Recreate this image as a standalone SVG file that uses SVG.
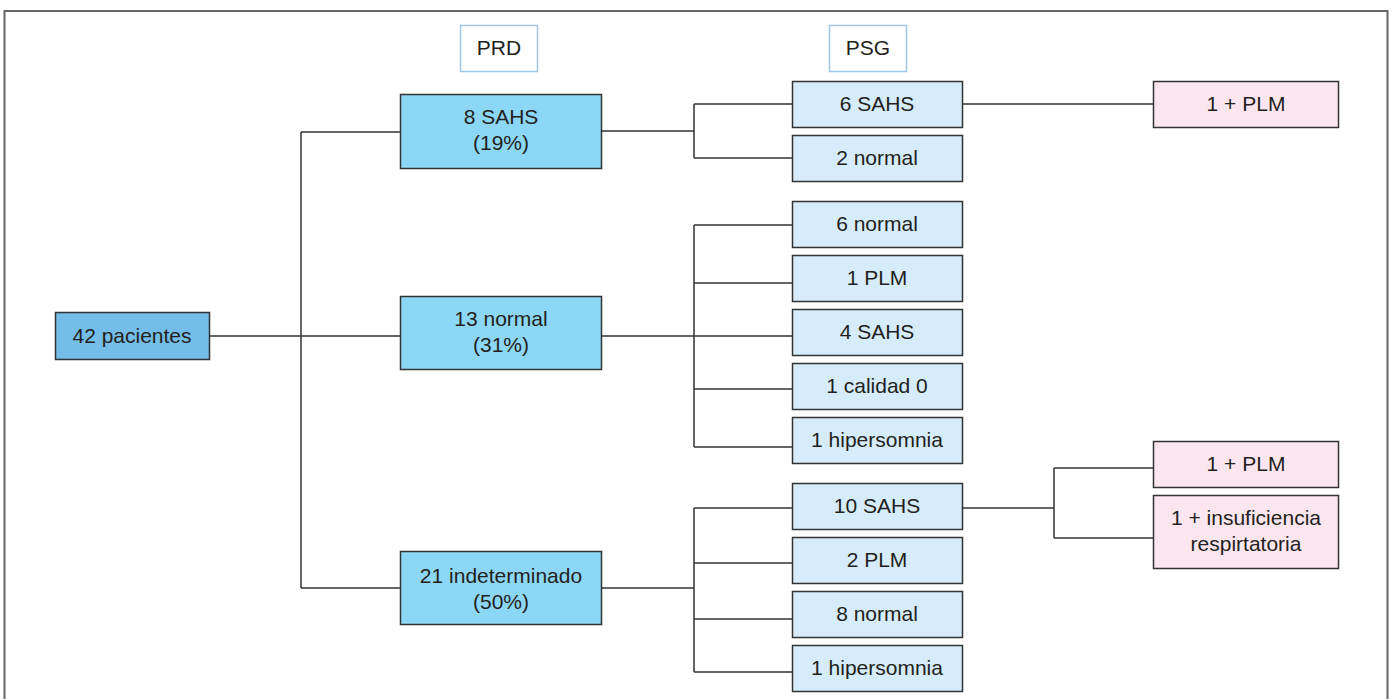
<svg xmlns="http://www.w3.org/2000/svg" width="1392" height="699" viewBox="0 0 1392 699">
<style>
text{font-family:"Liberation Sans",Arial,sans-serif;font-size:21px;fill:#231f20;text-anchor:middle}
.b{stroke:#333;stroke-width:1.5}
.root{fill:#74bde8}
.l2{fill:#8dd7f6}
.l3{fill:#d6ecfa}
.pk{fill:#fbe6ef}
.hd{fill:#fff;stroke:#9fc7ea;stroke-width:1.5}
.c{fill:none;stroke:#333;stroke-width:1.5}
</style>
<rect x="4.5" y="11" width="1383" height="710" fill="#fff" stroke="#666" stroke-width="2"/>
<g id="connectors">
<path class="c" d="M209 336H400M301 132V588M301 132H400M301 588H400"/>
<path class="c" d="M601 131H694M694 104V158M694 104H792M694 158H792"/>
<path class="c" d="M601 336H694M694 225V447M694 225H792M694 283H792M694 336H792M694 389H792M694 447H792"/>
<path class="c" d="M601 588H694M694 508V672M694 508H792M694 563H792M694 619H792M694 672H792"/>
<path class="c" d="M962 104H1153"/>
<path class="c" d="M962 508H1054M1054 468V538M1054 468H1153M1054 538H1153"/>
</g>
<g id="hdr-prd"><rect class="hd" x="460.5" y="25.5" width="77" height="46"/><text x="499" y="55">PRD</text></g>
<g id="hdr-psg"><rect class="hd" x="829.5" y="25.5" width="77" height="46"/><text x="868" y="55">PSG</text></g>
<g id="n-root"><rect class="b root" x="55.5" y="312.5" width="154" height="47"/><text x="132" y="343">42 pacientes</text></g>
<g id="n-sahs"><rect class="b l2" x="400.5" y="94.5" width="201" height="74"/><text x="501" y="124">8 SAHS</text><text x="501" y="150">(19%)</text></g>
<g id="n-normal"><rect class="b l2" x="400.5" y="296.5" width="201" height="73"/><text x="501" y="326">13 normal</text><text x="501" y="352">(31%)</text></g>
<g id="n-indet"><rect class="b l2" x="400.5" y="551.5" width="201" height="73"/><text x="501" y="583">21 indeterminado</text><text x="501" y="609">(50%)</text></g>
<g id="p1"><rect class="b l3" x="792.5" y="81.5" width="170" height="46"/><text x="877" y="111">6 SAHS</text></g>
<g id="p2"><rect class="b l3" x="792.5" y="135.5" width="170" height="46"/><text x="877" y="165">2 normal</text></g>
<g id="p3"><rect class="b l3" x="792.5" y="201.5" width="170" height="46"/><text x="877" y="231">6 normal</text></g>
<g id="p4"><rect class="b l3" x="792.5" y="255.5" width="170" height="46"/><text x="877" y="285">1 PLM</text></g>
<g id="p5"><rect class="b l3" x="792.5" y="309.5" width="170" height="46"/><text x="877" y="339">4 SAHS</text></g>
<g id="p6"><rect class="b l3" x="792.5" y="363.5" width="170" height="46"/><text x="877" y="393">1 calidad 0</text></g>
<g id="p7"><rect class="b l3" x="792.5" y="417.5" width="170" height="46"/><text x="877" y="447">1 hipersomnia</text></g>
<g id="p8"><rect class="b l3" x="792.5" y="483.5" width="170" height="46"/><text x="877" y="513">10 SAHS</text></g>
<g id="p9"><rect class="b l3" x="792.5" y="537.5" width="170" height="46"/><text x="877" y="567">2 PLM</text></g>
<g id="p10"><rect class="b l3" x="792.5" y="591.5" width="170" height="46"/><text x="877" y="621">8 normal</text></g>
<g id="p11"><rect class="b l3" x="792.5" y="645.5" width="170" height="46"/><text x="877" y="675">1 hipersomnia</text></g>
<g id="k1"><rect class="b pk" x="1153.5" y="81.5" width="185" height="46"/><text x="1246" y="111">1 + PLM</text></g>
<g id="k2"><rect class="b pk" x="1153.5" y="441.5" width="185" height="46"/><text x="1246" y="471">1 + PLM</text></g>
<g id="k3"><rect class="b pk" x="1153.5" y="495.5" width="185" height="73"/><text x="1246" y="525">1 + insuficiencia</text><text x="1246" y="551">respirtatoria</text></g>
</svg>
